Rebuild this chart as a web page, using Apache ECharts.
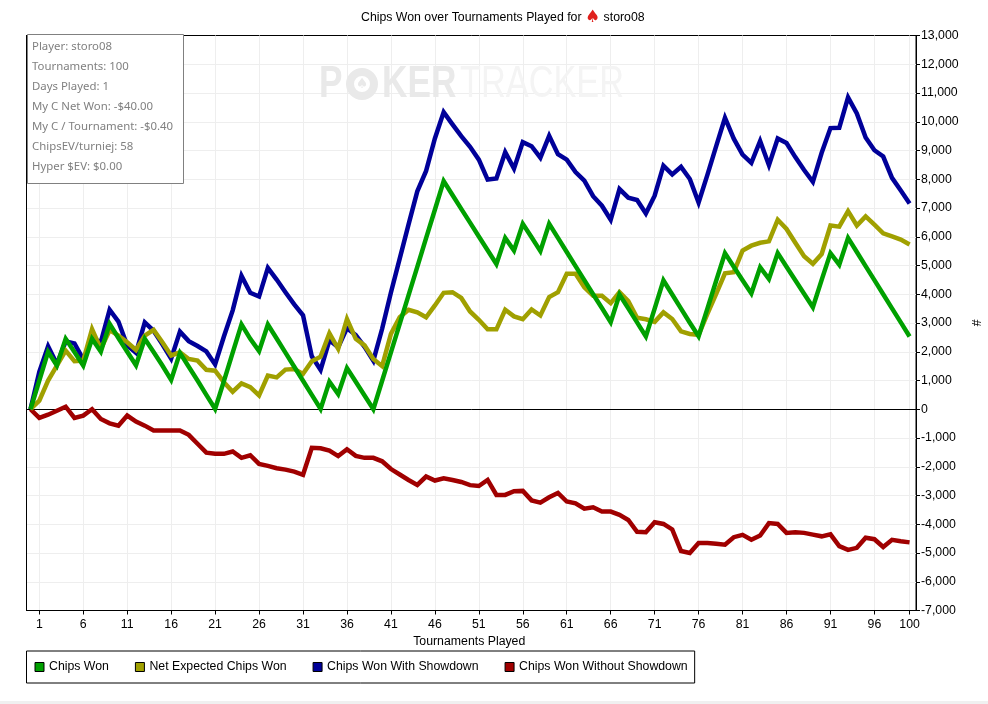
<!DOCTYPE html>
<html>
<head>
<meta charset="utf-8">
<title>Chips Won</title>
<script src="https://cdn.jsdelivr.net/npm/echarts@6/dist/echarts.min.js"></script>
<style>
html, body { margin: 0; padding: 0; background: #fff; }
#chartmain { width: 988px; height: 704px; }
</style>
</head>
<body>
<div id="chartmain"></div>
<script>
// index of each value = tournaments played (starts at 0)
var chipsWon = [0, 1000, 2000, 1520, 2450, 1990, 1520, 2450, 2000, 2970,
	2480, 2000, 1530, 2450, 1990, 1520, 1020, 1960, 1480, 1000,
	500, 10, 980, 1970, 2950, 2450, 2020, 2950, 2460, 1970,
	1480, 990, 500, 10, 960, 530, 1430, 960, 480, 0,
	990, 1980, 2970, 3960, 4950, 5950, 6940, 7935, 7450, 6970,
	6490, 6010, 5530, 5050, 5960, 5520, 6450, 5980, 5500, 6450,
	5960, 5470, 4980, 4490, 4000, 3520, 3030, 3990, 3510, 3020,
	2530, 3500, 4480, 3990, 3500, 3010, 2540, 3500, 4470, 5430,
	4960, 4490, 4030, 4940, 4530, 5430, 4960, 4490, 4020, 3550,
	4500, 5430, 5030, 5960, 5470, 4980, 4490, 4000, 3510, 3020, 2530];
var netExpected = [0, 300, 1000, 1520, 2040, 1670, 1690, 2790, 2100, 2750,
	2560, 2330, 2060, 2560, 2760, 2330, 1870, 1980, 1750, 1690,
	1370, 1340, 940, 610, 900, 770, 480, 1170, 1110, 1380,
	1400, 1230, 1670, 1830, 2640, 2100, 3140, 2450, 2220, 1750,
	1500, 2620, 3200, 3460, 3370, 3200, 3610, 4050, 4070, 3870,
	3400, 3110, 2780, 2780, 3460, 3230, 3130, 3470, 3260, 3900,
	4070, 4710, 4710, 4240, 3950, 3950, 3690, 4070, 3760, 3180,
	3130, 3040, 3370, 3140, 2710, 2620, 2590, 3320, 4010, 4730,
	4770, 5520, 5690, 5790, 5840, 6590, 6270, 5790, 5320, 5060,
	5400, 6390, 6350, 6890, 6390, 6710, 6420, 6120, 6010, 5900, 5730];
var withShowdown = [0, 1300, 2190, 1570, 2360, 2290, 1740, 2450, 2340, 3460,
	3050, 2220, 1960, 3020, 2730, 2260, 1760, 2700, 2370, 2200,
	2010, 1560, 2530, 3440, 4640, 4050, 3920, 4920, 4510, 4070,
	3650, 3270, 1840, 1370, 2400, 2160, 2820, 2580, 2170, 1690,
	2800, 4060, 5240, 6420, 7580, 8290, 9420, 10335, 9910, 9500,
	9130, 8680, 7990, 8030, 8940, 8370, 9290, 9150, 8750, 9510,
	8870, 8680, 8250, 7950, 7410, 7080, 6590, 7660, 7360, 7280,
	6810, 7430, 8470, 8170, 8430, 8010, 7190, 8150, 9150, 10140,
	9410, 8860, 8570, 9330, 8490, 9420, 9260, 8770, 8320, 7910,
	8920, 9780, 9790, 10850, 10290, 9450, 9010, 8790, 8050, 7610, 7160];
var withoutShowdown = [0, -300, -190, -50, 90, -300, -220, 0, -340, -490,
	-570, -220, -430, -570, -740, -740, -740, -740, -890, -1200,
	-1510, -1550, -1550, -1470, -1690, -1600, -1900, -1970, -2050, -2100,
	-2170, -2280, -1340, -1360, -1440, -1630, -1390, -1620, -1690, -1690,
	-1810, -2080, -2270, -2460, -2630, -2340, -2480, -2400, -2460, -2530,
	-2640, -2670, -2460, -2980, -2980, -2850, -2840, -3170, -3250, -3060,
	-2910, -3210, -3270, -3460, -3410, -3560, -3560, -3670, -3850, -4260,
	-4280, -3930, -3990, -4180, -4930, -5000, -4650, -4650, -4680, -4710,
	-4450, -4370, -4540, -4390, -3960, -3990, -4300, -4280, -4300, -4360,
	-4420, -4350, -4760, -4890, -4820, -4470, -4520, -4790, -4540, -4590, -4630];
var xTicks = [1, 6, 11, 16, 21, 26, 31, 36, 41, 46, 51, 56, 61, 66, 71, 76, 81, 86, 91, 96, 100];
var infoLines = ['Player: storo08', 'Tournaments: 100', 'Days Played: 1', 'My C Net Won: -$40.00',
	'My C / Tournament: -$0.40', 'ChipsEV/turniej: 58', 'Hyper $EV: $0.00'];
var seriesNames = ['Chips Won', 'Net Expected Chips Won', 'Chips Won With Showdown', 'Chips Won Without Showdown'];
var seriesColors = ['#00a000', '#a0a000', '#000099', '#a00000'];

var font = '"Liberation Sans", Arial, sans-serif';
var fontSize = 12.3;

function points(arr) {
	var res = [];
	for (var i = 0; i < arr.length; i++) {
		res.push([i, arr[i]]);
	}
	return res;
}

function line(idx, arr, z) {
	return {
		name: seriesNames[idx],
		type: 'line',
		data: points(arr),
		symbol: 'none',
		z: z,
		silent: true,
		animation: false,
		lineStyle: { width: 4.5, color: seriesColors[idx], join: 'miter' },
		itemStyle: { color: seriesColors[idx] }
	};
}

// left edge of the plot, over the grid line ends
var graphics = [{
	type: 'line',
	shape: { x1: 26.5, y1: 35, x2: 26.5, y2: 611 },
	style: { stroke: '#000', lineWidth: 1 },
	z: 9
}];
// stats box top left
graphics.push({
	type: 'rect',
	shape: { x: 27.5, y: 34.5, width: 156, height: 149 },
	style: { fill: '#fff', stroke: '#808080', lineWidth: 1 },
	z: 10
});
for (var i = 0; i < infoLines.length; i++) {
	graphics.push({
		type: 'text',
		x: 32,
		y: 47 + i * 20,
		style: { text: infoLines[i], fill: '#808080', font: '11.4px "Noto Sans", sans-serif', textVerticalAlign: 'middle' },
		z: 11
	});
}
// watermark
graphics.push({
	type: 'text', x: 319, y: 85, scaleX: 0.8,
	style: { text: 'P', fill: '#e9e9e9', font: 'bold 44px "Liberation Sans"', textVerticalAlign: 'middle' },
	z: 1
});
graphics.push({
	type: 'ring', shape: { cx: 362, cy: 84, r: 16, r0: 8 },
	style: { fill: '#e9e9e9' },
	z: 1
});
graphics.push({
	type: 'text', x: 362, y: 84,
	style: { text: '\u2660', fill: '#e9e9e9', font: '14px "DejaVu Sans"', textAlign: 'center', textVerticalAlign: 'middle' },
	z: 1
});
graphics.push({
	type: 'text', x: 382, y: 85, scaleX: 0.8,
	style: { text: 'KER', fill: '#e9e9e9', font: 'bold 44px "Liberation Sans"', textVerticalAlign: 'middle' },
	z: 1
});
graphics.push({
	type: 'text', x: 460, y: 85, scaleX: 0.78,
	style: { text: 'TRACKER', fill: '#f4f4f4', font: '44px "Liberation Sans"', textVerticalAlign: 'middle' },
	z: 1
});
// strip at the bottom of the page
graphics.push({
	type: 'rect',
	shape: { x: 0, y: 701, width: 988, height: 3 },
	style: { fill: '#f0f0f0' }
});

var option = {
	backgroundColor: '#fff',
	animation: false,
	title: {
		text: '{a|Chips Won over Tournaments Played for }{s|\u2660}{a| storo08}',
		left: 361,
		top: 9,
		padding: 0,
		textStyle: {
			fontWeight: 'normal',
			rich: {
				a: { fontFamily: font, fontSize: fontSize, fontWeight: 'normal', color: '#000' },
				s: { fontFamily: '"DejaVu Sans"', fontSize: 17, fontWeight: 'normal', color: '#e0201c' }
			}
		}
	},
	legend: {
		data: seriesNames,
		left: 26.5,
		top: 651,
		orient: 'horizontal',
		icon: 'rect',
		itemWidth: 9,
		itemHeight: 9,
		itemGap: 26,
		padding: [10, 7, 10, 8],
		borderColor: '#000',
		borderWidth: 1,
		selectedMode: false,
		itemStyle: { borderColor: '#000', borderWidth: 1 },
		textStyle: { fontFamily: font, fontSize: fontSize, color: '#000' }
	},
	grid: {
		left: 26.5,
		top: 35.5,
		width: 889.5,
		height: 575,
		outerBoundsMode: 'none',
		show: true,
		borderColor: '#000',
		borderWidth: 1,
		backgroundColor: '#fff'
	},
	xAxis: {
		type: 'value',
		min: -0.456,
		max: 100.73,
		name: 'Tournaments Played',
		nameLocation: 'middle',
		nameGap: 25,
		nameTextStyle: { fontFamily: font, fontSize: fontSize, color: '#000', padding: [0, 4, 0, 0] },
		axisLine: { onZero: false, lineStyle: { color: '#000' } },
		axisTick: { customValues: xTicks, length: 4, lineStyle: { color: '#000' } },
		axisLabel: {
			customValues: xTicks,
			fontFamily: font,
			fontSize: fontSize,
			color: '#000',
			margin: 8,
			formatter: function(v) { return String(v); }
		},
		splitLine: { show: true, lineStyle: { color: '#eeeeee', width: 1 } }
	},
	yAxis: {
		type: 'value',
		position: 'right',
		min: -7000,
		max: 13000,
		interval: 1000,
		name: '#',
		nameLocation: 'middle',
		nameGap: 44,
		nameRotate: -90,
		nameTextStyle: { fontFamily: font, fontSize: fontSize, color: '#000' },
		axisLine: { show: true, onZero: false, lineStyle: { color: '#000' } },
		axisTick: { show: true, length: 4, lineStyle: { color: '#000' } },
		axisLabel: {
			fontFamily: font,
			fontSize: fontSize,
			color: '#000',
			margin: 5,
			padding: [2, 0, 0, 0],
			formatter: function(v) { return v.toLocaleString('en-US'); }
		},
		splitLine: { show: true, showMinLine: false, showMaxLine: false, lineStyle: { color: '#eeeeee', width: 1 } }
	},
	series: [
		line(0, chipsWon, 6),
		line(1, netExpected, 5),
		line(2, withShowdown, 4),
		line(3, withoutShowdown, 3)
	],
	graphic: graphics
};
// zero line
option.series[3].markLine = {
	silent: true,
	symbol: 'none',
	animation: false,
	z: 2,
	label: { show: false },
	lineStyle: { color: '#000', width: 1, type: 'solid' },
	data: [{ yAxis: 0 }]
};

var myChart = echarts.init(document.getElementById('chartmain'), null, { renderer: 'canvas' });
myChart.setOption(option);
</script>
</body>
</html>
